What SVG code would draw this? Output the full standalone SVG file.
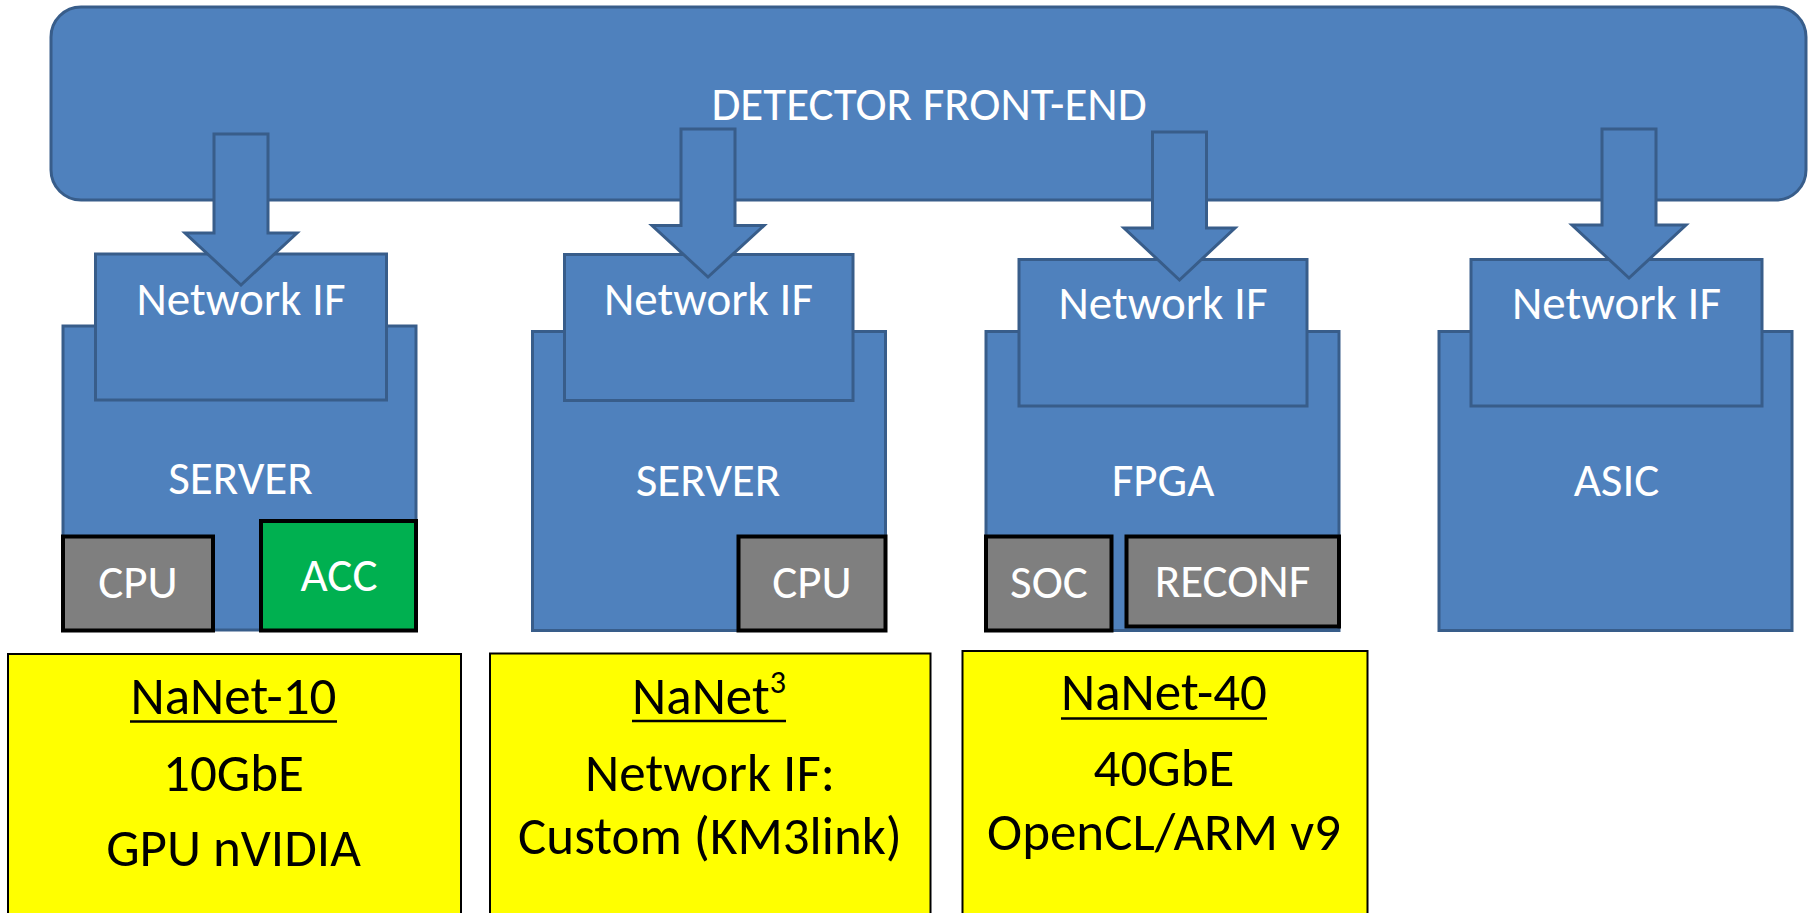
<svg xmlns="http://www.w3.org/2000/svg" width="1814" height="913" viewBox="0 0 1814 913">
  <style>
    .blue { fill: #4F81BD; stroke: #385D8A; stroke-width: 3; }
    .chip { fill: #7F7F7F; stroke: #000; stroke-width: 4; }
    .acc { fill: #00B050; stroke: #000; stroke-width: 4; }
    .note { fill: #FFFF00; stroke: #000; stroke-width: 2; }
    .lbl { font-family: Carlito, Calibri, Lato, sans-serif; font-size: 47px; fill: #fff; text-anchor: middle; }
    .txt { font-family: Carlito, Calibri, Lato, sans-serif; font-size: 53px; fill: #000; text-anchor: middle; }
    .ul { stroke: #000; stroke-width: 2.5; }
  </style>
  <rect width="1814" height="913" fill="#fff"/>

  <!-- detector front-end bus -->
  <g id="frontend">
    <rect class="blue" x="51" y="7" width="1755" height="193" rx="30" ry="30"/>
    <text class="lbl" x="929" y="120">DETECTOR FRONT-END</text>
  </g>

  <!-- NaNet-10 node: server with CPU + accelerator -->
  <g id="node-server-acc">
    <rect class="blue" x="63" y="326" width="353" height="304"/>
    <rect class="blue" x="95.5" y="254" width="291" height="146"/>
    <text class="lbl" x="241" y="315">Network IF</text>
    <text class="lbl" x="240.5" y="494">SERVER</text>
    <rect class="chip" x="63" y="536.5" width="150" height="94"/>
    <text class="lbl" x="138" y="598">CPU</text>
    <rect class="acc" x="261" y="521" width="155" height="109.5"/>
    <text class="lbl" x="339" y="591">ACC</text>
  </g>

  <!-- NaNet3 node: server with CPU -->
  <g id="node-server-cpu">
    <rect class="blue" x="532.5" y="331.5" width="353" height="299"/>
    <rect class="blue" x="564.5" y="254.5" width="288.5" height="146"/>
    <text class="lbl" x="708.5" y="315">Network IF</text>
    <text class="lbl" x="708" y="496">SERVER</text>
    <rect class="chip" x="738.5" y="536.5" width="147" height="94"/>
    <text class="lbl" x="812" y="598">CPU</text>
  </g>

  <!-- NaNet-40 node: FPGA with SoC + reconfigurable logic -->
  <g id="node-fpga">
    <rect class="blue" x="986" y="331.5" width="353" height="299"/>
    <rect class="blue" x="1019" y="259.5" width="288" height="146.5"/>
    <text class="lbl" x="1163" y="319">Network IF</text>
    <text class="lbl" x="1163" y="496">FPGA</text>
    <rect class="chip" x="986" y="536.5" width="125.5" height="94"/>
    <text class="lbl" x="1049" y="598">SOC</text>
    <rect class="chip" x="1126.5" y="536.5" width="212.5" height="90"/>
    <text class="lbl" x="1232.5" y="597">RECONF</text>
  </g>

  <!-- ASIC node -->
  <g id="node-asic">
    <rect class="blue" x="1439" y="331.5" width="353" height="299"/>
    <rect class="blue" x="1471" y="259.5" width="291" height="146.5"/>
    <text class="lbl" x="1616.5" y="319">Network IF</text>
    <text class="lbl" x="1616.5" y="496">ASIC</text>
  </g>

  <!-- block arrows from the front-end into each network interface -->
  <g id="connectors">
    <polygon class="blue" points="214,134 268,134 268,233 297,233 241,285 185,233 214,233"/>
    <polygon class="blue" points="681,129 735,129 735,225.5 764,225.5 708,277 652,225.5 681,225.5"/>
    <polygon class="blue" points="1152.5,132 1206.5,132 1206.5,228 1235,228 1179.5,280 1124,228 1152.5,228"/>
    <polygon class="blue" points="1602,129 1656,129 1656,225 1686,225 1629,278 1572,225 1602,225"/>
  </g>

  <!-- project notes -->
  <g id="note-nanet10">
    <rect class="note" x="8" y="654" width="453" height="270"/>
    <text class="txt" x="233.5" y="713.5">NaNet-10</text>
    <line class="ul" x1="130" y1="721.5" x2="337" y2="721.5"/>
    <text class="txt" x="233.5" y="790.5">10GbE</text>
    <text class="txt" x="233.5" y="865.5">GPU nVIDIA</text>
  </g>

  <g id="note-nanet3">
    <rect class="note" x="490" y="653.5" width="440.5" height="270"/>
    <text class="txt" x="709" y="714">NaNet<tspan font-size="32" dy="-21">3</tspan></text>
    <line class="ul" x1="632" y1="721" x2="786" y2="721"/>
    <text class="txt" x="710" y="790.5">Network IF:</text>
    <text class="txt" x="710" y="853.5">Custom (KM3link)</text>
  </g>

  <g id="note-nanet40">
    <rect class="note" x="962.5" y="651" width="405" height="270"/>
    <text class="txt" x="1164" y="709.5">NaNet-40</text>
    <line class="ul" x1="1061" y1="718.5" x2="1267" y2="718.5"/>
    <text class="txt" x="1164" y="785.5">40GbE</text>
    <text class="txt" x="1164" y="850">OpenCL/ARM v9</text>
  </g>
</svg>
